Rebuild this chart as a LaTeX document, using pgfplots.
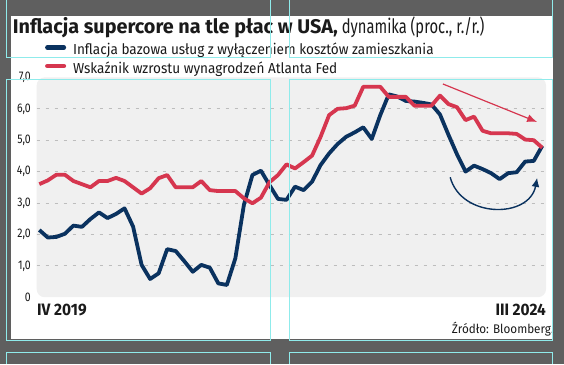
\documentclass[border=0pt]{standalone}
\usepackage{fontspec}
\setmainfont{Fira Sans}[FakeStretch=0.935]
\newfontfamily\titlefont{Fira Sans}[FakeStretch=1.0]
\newfontfamily\titlereg{Fira Sans}[FakeStretch=0.745]
\newfontfamily\tickfont{Fira Sans}[FakeStretch=0.84]
\usepackage{pgfplots}
\pgfplotsset{compat=1.18}
\usepackage{pgfplotstable}
\usetikzlibrary{arrows.meta}
\definecolor{bgdark}{HTML}{5F5F5F}
\definecolor{plotbg}{HTML}{F0F0F0}
\definecolor{navy}{HTML}{0A325F}
\definecolor{crim}{HTML}{D6364F}
\definecolor{gridc}{HTML}{BDBDBD}
\definecolor{cyanl}{HTML}{8FEBEB}
\definecolor{txt}{HTML}{1A1A1A}
\pgfplotstableread{
i blue red
0 2.14 3.60
1 1.90 3.72
2 1.92 3.90
3 2.02 3.90
4 2.28 3.70
5 2.24 3.60
6 2.49 3.50
7 2.70 3.70
8 2.52 3.70
9 2.65 3.80
10 2.83 3.70
11 2.25 3.50
12 1.03 3.30
13 0.58 3.47
14 0.76 3.79
15 1.53 3.89
16 1.47 3.50
17 1.15 3.50
18 0.81 3.50
19 1.03 3.70
20 0.94 3.41
21 0.44 3.38
22 0.39 3.38
23 1.24 3.38
24 2.94 3.15
25 3.89 2.99
26 4.03 3.17
27 3.57 3.66
28 3.13 3.89
29 3.10 4.23
30 3.52 4.10
31 3.41 4.30
32 3.68 4.51
33 4.21 5.11
34 4.58 5.80
35 4.88 6.00
36 5.11 6.02
37 5.25 6.10
38 5.41 6.70
39 5.04 6.70
40 5.80 6.70
41 6.46 6.38
42 6.39 6.38
43 6.25 6.38
44 6.23 6.10
45 6.19 6.10
46 6.14 6.10
47 5.82 6.42
48 5.17 6.15
49 4.55 6.05
50 4.00 5.64
51 4.19 5.75
52 4.08 5.30
53 3.95 5.22
54 3.76 5.22
55 3.95 5.22
56 3.98 5.20
57 4.32 5.02
58 4.34 5.00
59 4.82 4.76
}\datatab
\begin{document}
\begin{tikzpicture}[x=1pt,y=1pt]
\path[use as bounding box] (0,0) rectangle (564,364);
\fill[bgdark] (0,0) rectangle (564,364);
\fill[white] (11,24.7) rectangle (553,348.3);
\node[anchor=base west, inner sep=0, text=txt] at (12.6,330.7)
  {\fontsize{19.8}{24}\selectfont\titlefont\bfseries Inflacja supercore na tle płac w USA,\titlereg\mdseries{} dynamika (proc., r./r.)};
\begin{axis}[
  at={(36.7pt,66.8pt)}, anchor=south west,
  scale only axis, width=509.3pt, height=219.8pt,
  xmin=-0.305, xmax=59.44, ymin=0, ymax=7,
  clip=false,
  axis line style={draw=none},
  major tick length=0pt,
  xtick=\empty,
  ytick={1,2,3,4,5,6},
  yticklabels={{1,0},{2,0},{3,0},{4,0},{5,0},{6,0}},
  extra y ticks={0,7},
  extra y tick labels={0,{7,0}},
  extra y tick style={grid=none},
  ymajorgrids,
  grid style={draw=gridc, line width=1pt, dash pattern=on 3.5pt off 5.5pt},
  /pgf/number format/assume math mode=true,
  y tick label style={font=\tickfont\fontsize{12.5}{14}\selectfont, text=txt, inner sep=0pt, xshift=-5.7pt},
  axis background/.style={fill=plotbg, rounded corners=8pt},
  legend style={at={(axis description cs:0.0124,1.153)}, anchor=north west, draw=none, fill=none,
    inner sep=0pt, column sep=5pt, row sep=4.6pt,
    font=\fontsize{14.5}{17}\selectfont,
    nodes={inner sep=0pt, text height=11pt, text depth=3pt, text=txt}},
  legend cell align=left,
  legend image code/.code={\path (0pt,0pt) (21pt,0pt);
     \draw[#1, line width=4.6pt, line cap=round] (2.3pt,0.35em) -- (18.7pt,0.35em);},
]
\addplot[navy, line width=3.8pt, line join=round] table[x=i, y=blue] {\datatab};
\addlegendentry{Inflacja bazowa usług z wyłączeniem kosztów zamieszkania}
\addplot[crim, line width=3.8pt, line join=round] table[x=i, y=red] {\datatab};
\addlegendentry{Wskaźnik wzrostu wynagrodzeń Atlanta Fed}
\draw[crim, line width=1.2pt, -{Latex[length=10pt,width=8pt]}] (axis cs:47.35,6.79) -- (axis cs:58.4,5.58);
\draw[navy, line width=1.4pt, -{Latex[length=9pt,width=8pt]}] (axis cs:48.2,3.82) .. controls (axis cs:49.5,2.5) and (axis cs:57.5,2.5) .. (axis cs:58.4,3.80);
\node[anchor=base west, inner sep=0, text=txt, font=\fontsize{16.5}{18}\selectfont\bfseries] at (rel axis cs:0,0) [yshift=-17.8pt, xshift=0.3pt] {IV 2019};
\node[anchor=base east, inner sep=0, text=txt, font=\fontsize{16.5}{18}\selectfont\bfseries] at (rel axis cs:1,0) [yshift=-17.8pt] {III 2024};
\end{axis}
\node[anchor=base east, inner sep=0, text=txt, font=\fontsize{12.5}{14}\selectfont] at (554,30.5) {Źródło: Bloomberg.};
\begin{scope}[cyanl, line width=0.9pt]
\draw (6,364) -- (6,306.7) -- (270,306.7) -- (270,364);
\draw (289.5,364) -- (289.5,306.7) -- (552.5,306.7) -- (552.5,364);
\draw (6,24) rectangle (270,285);
\draw (289.5,24) rectangle (552.5,285);
\draw (6,0) -- (6,11.3) -- (270,11.3) -- (270,0);
\draw (289.5,0) -- (289.5,11.3) -- (552.5,11.3) -- (552.5,0);
\end{scope}
\end{tikzpicture}
\end{document}
